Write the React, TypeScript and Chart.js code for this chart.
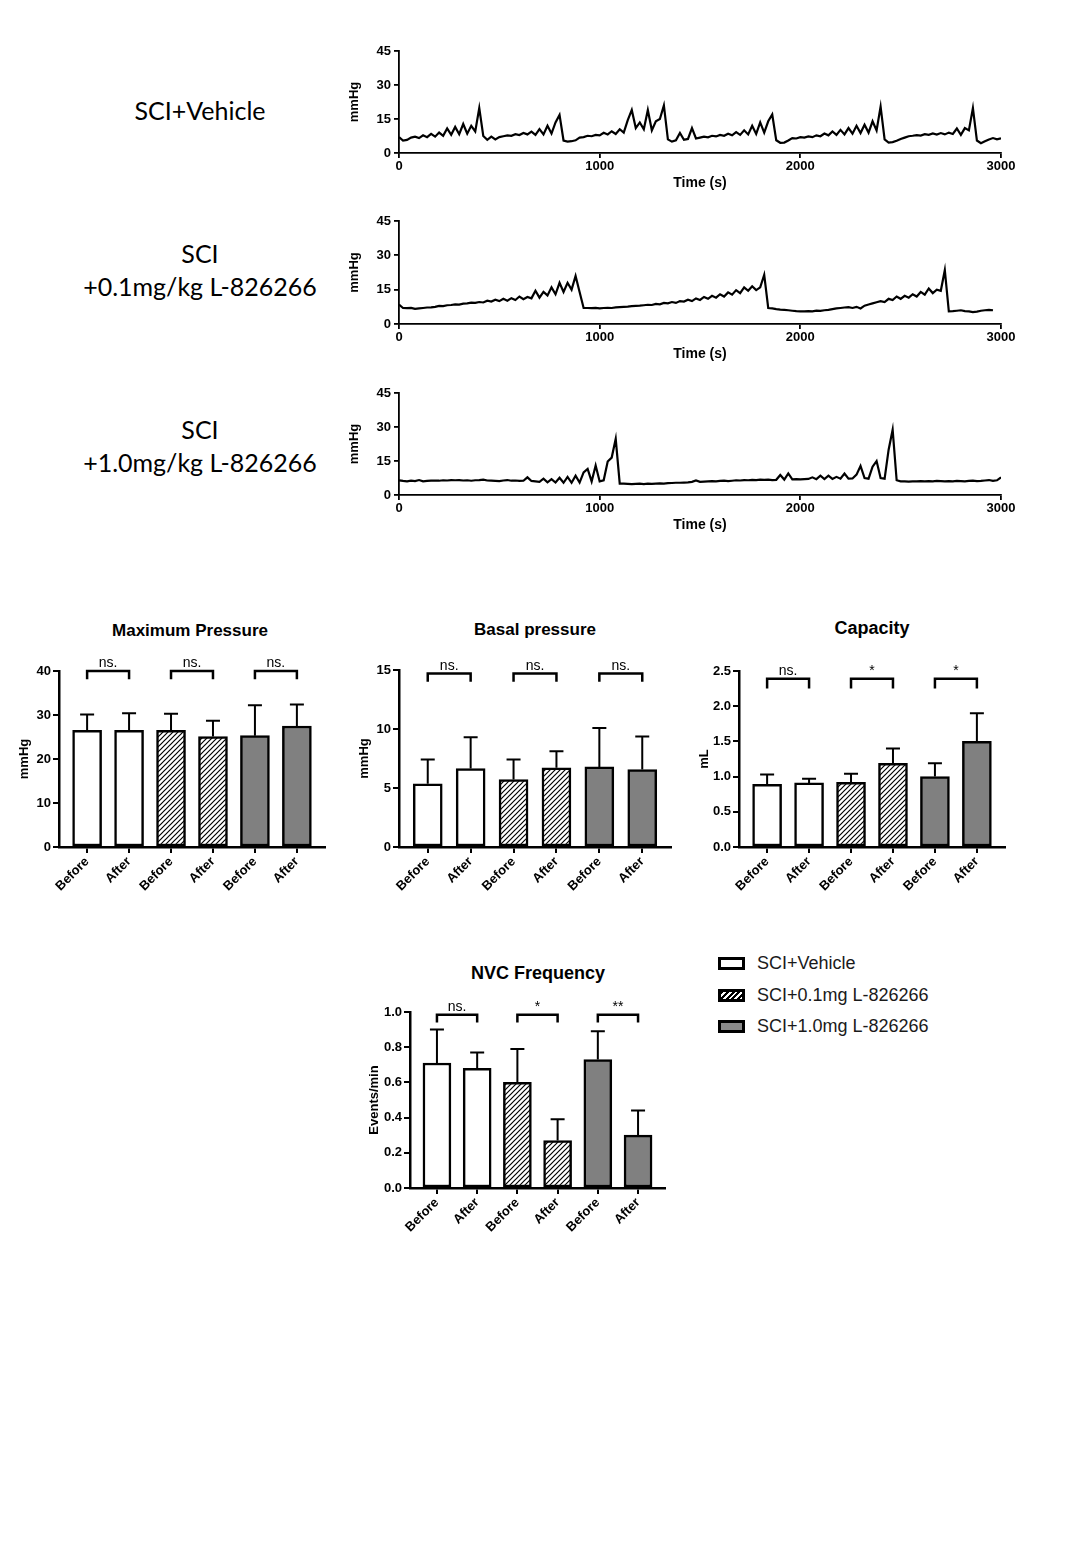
import React, { useEffect, useRef } from "react";
import { Chart, registerables } from "chart.js";

Chart.register(...registerables);

const FONT = "'Liberation Sans', Arial, Helvetica, sans-serif";
const LABEL_FONT = "Lato, 'Open Sans', sans-serif";

// ---------- cystometry traces (time in s, pressure in mmHg) ----------
const sampleTimes = [
  0, 20, 40, 60, 80, 100, 120, 140, 160, 180,
  200, 220, 240, 260, 280, 300, 320, 340, 360, 380,
  400, 420, 440, 460, 480, 500, 520, 540, 560, 580,
  600, 620, 640, 660, 680, 700, 720, 740, 760, 780,
  800, 820, 840, 860, 880, 900, 920, 940, 960, 980,
  1000, 1020, 1040, 1060, 1080, 1100, 1120, 1140, 1160, 1180,
  1200, 1220, 1240, 1260, 1280, 1300, 1320, 1340, 1360, 1380,
  1400, 1420, 1440, 1460, 1480, 1500, 1520, 1540, 1560, 1580,
  1600, 1620, 1640, 1660, 1680, 1700, 1720, 1740, 1760, 1780,
  1800, 1820, 1840, 1860, 1880, 1900, 1920, 1940, 1960, 1980,
  2000, 2020, 2040, 2060, 2080, 2100, 2120, 2140, 2160, 2180,
  2200, 2220, 2240, 2260, 2280, 2300, 2320, 2340, 2360, 2380,
  2400, 2420, 2440, 2460, 2480, 2500, 2520, 2540, 2560, 2580,
  2600, 2620, 2640, 2660, 2680, 2700, 2720, 2740, 2760, 2780,
  2800, 2820, 2840, 2860, 2880, 2900, 2920, 2940, 2960, 2980,
  3000,
];

const vehicleTrace: (number | null)[] = [
  7.0, 5.5, 5.8, 6.8, 7.2, 6.6, 7.8, 7.0, 8.4, 7.2,
  9.0, 7.6, 10.8, 8.0, 11.5, 8.3, 12.8, 8.5, 12.0, 9.5,
  19.8, 7.5, 5.8, 7.2, 6.0, 7.0, 7.4, 7.8, 7.6, 8.3,
  7.9, 8.8, 8.2, 9.4, 8.0, 10.5, 8.2, 12.0, 8.6, 13.5,
  16.8, 5.5, 5.0, 5.2, 5.6, 6.8, 7.0, 7.6, 7.4, 8.0,
  7.8, 8.9, 8.2, 9.6, 8.4, 10.5, 9.0, 14.5, 19.0, 11.0,
  13.5, 10.5, 19.0, 10.0, 14.0, 15.0, 21.0, 6.0, 5.0, 5.6,
  8.8, 5.8, 6.2, 11.0, 6.4, 6.8, 7.2, 6.9, 7.6, 7.3,
  8.0, 7.6, 8.5, 7.8, 9.2, 8.0, 10.0, 8.2, 12.0, 8.4,
  13.5, 9.0, 14.0, 17.0, 5.6, 4.5, 4.6, 5.5, 6.6, 6.4,
  7.0, 6.8, 7.3, 7.0, 7.8, 7.4, 8.6, 7.8, 9.5, 8.0,
  10.2, 8.2, 11.0, 8.5, 12.0, 8.8, 12.5, 9.0, 14.0, 10.0,
  20.5, 6.0, 4.6, 4.8, 5.4, 6.2, 6.8, 7.4, 7.6, 7.9,
  7.7, 8.3, 8.0, 8.6, 8.1, 8.8, 8.2, 9.0, 8.4, 10.8,
  8.0, 11.0, 10.0, 19.8, 5.5, 4.3, 5.2, 6.0, 6.6, 6.0,
  6.5,
];

const lowDoseTrace: (number | null)[] = [
  8.5, 7.0, 6.9, 7.0, 6.6, 6.8, 7.0, 7.2, 7.3, 7.5,
  7.9, 7.8, 8.2, 8.3, 8.6, 8.5, 8.9, 9.0, 9.3, 9.2,
  9.6, 9.4, 10.2, 9.8, 10.6, 10.0, 11.0, 10.2, 11.3, 10.5,
  12.0, 10.8, 11.8, 11.2, 14.5, 11.5, 14.0, 12.5, 16.0, 13.0,
  18.0, 14.0, 18.0, 15.0, 21.0, 14.0, 7.0, 7.0, 6.9, 7.0,
  6.8, 7.0, 7.1, 7.0, 7.3, 7.4, 7.5, 7.6, 7.8, 7.9,
  8.0, 8.2, 8.4, 8.3, 8.8, 8.6, 9.2, 9.0, 9.6, 9.2,
  10.0, 9.8, 10.6, 10.0, 11.2, 10.5, 11.8, 11.0, 12.3, 11.5,
  13.0, 12.0, 13.8, 12.8, 14.8, 13.5, 16.0, 14.5, 16.5, 14.8,
  16.0, 21.5, 7.0, 6.8, 6.5, 6.3, 6.2, 6.0, 5.8, 5.6,
  5.5, 5.5, 5.6, 5.5, 5.8, 5.7, 6.0, 6.2, 6.5, 6.8,
  7.0, 7.2, 7.4, 7.0, 7.5, 6.8, 8.0, 8.5, 9.0, 9.5,
  10.0, 9.6, 11.0, 10.5, 12.0, 11.0, 12.3, 11.5, 13.0, 12.0,
  14.0, 12.8, 15.5, 13.5, 15.0, 14.5, 23.5, 5.5, 5.6, 5.8,
  6.0, 5.6, 5.5, 5.2, 5.4, 5.8, 6.0, 6.2, 6.0, null,
  null,
];

const highDoseTrace: (number | null)[] = [
  6.5, 6.2, 6.0, 6.3, 6.1, 6.6, 6.0, 6.2, 6.3, 6.4,
  6.3, 6.5, 6.4, 6.6, 6.5, 6.6, 6.4, 6.5, 6.3, 6.5,
  6.6, 6.8, 6.4, 6.3, 6.2, 6.1, 6.4, 6.6, 6.3, 6.4,
  6.2, 6.3, 7.8, 6.2, 6.0, 5.8, 7.2, 5.6, 7.0, 5.5,
  7.6, 5.4, 8.0, 5.4, 8.5, 5.5, 10.0, 11.5, 6.0, 13.0,
  6.0, 6.5, 14.8, 16.5, 24.8, 5.0, 5.0, 4.9, 4.8, 4.9,
  5.0, 4.8, 5.0, 4.9, 5.0, 5.1, 5.0, 5.2, 5.3, 5.4,
  5.4, 5.5, 5.6, 5.8, 6.4, 5.8, 5.9, 6.0, 6.1, 6.0,
  6.2, 6.3, 6.1, 6.3, 6.5, 6.4, 6.6, 6.5, 6.7, 6.6,
  6.8, 6.7, 6.8, 6.6, 6.7, 8.8, 6.8, 9.5, 6.9, 7.0,
  6.9, 7.0, 7.1, 7.8, 7.0, 8.5, 7.0, 8.5, 7.1, 8.0,
  7.2, 9.5, 7.2, 7.3, 9.0, 12.8, 7.5, 7.2, 12.5, 15.0,
  7.5, 7.2, 20.0, 28.8, 6.5, 6.0, 6.0, 5.9, 6.0, 6.0,
  6.1, 6.0, 6.1, 6.0, 6.2, 6.1, 6.0, 6.1, 6.0, 6.2,
  6.1, 6.0, 6.2, 6.3, 6.1, 6.2, 6.4, 6.6, 6.2, 6.5,
  7.8,
];

const traceXTicks = [0, 1000, 2000, 3000];
const traceYTicks = [0, 15, 30, 45];

// ---------- bar panels ----------
const groupLabels = ["Before", "After", "Before", "After", "Before", "After"];

const maxPressureMean = [26.5, 26.5, 26.5, 25.1, 25.3, 27.5];
const maxPressureErr = [3.6, 3.9, 3.8, 3.6, 6.9, 4.9];
const maxPressureSig = ["ns.", "ns.", "ns."];
const maxPressureTicks = [0, 10, 20, 30, 40];

const basalMean = [5.36, 6.65, 5.72, 6.71, 6.79, 6.57];
const basalErr = [2.05, 2.65, 1.69, 1.41, 3.3, 2.79];
const basalSig = ["ns.", "ns.", "ns."];
const basalTicks = [0, 5, 10, 15];

const capacityMean = [0.89, 0.91, 0.92, 1.19, 1.0, 1.5];
const capacityErr = [0.14, 0.06, 0.12, 0.21, 0.19, 0.4];
const capacitySig = ["ns.", "*", "*"];
const capacityTicks = [0, 0.5, 1.0, 1.5, 2.0, 2.5];

const nvcMean = [0.71, 0.68, 0.6, 0.27, 0.73, 0.3];
const nvcErr = [0.19, 0.09, 0.19, 0.12, 0.16, 0.14];
const nvcSig = ["ns.", "*", "**"];
const nvcTicks = [0, 0.2, 0.4, 0.6, 0.8, 1.0];

const legendLabels = ["SCI+Vehicle", "SCI+0.1mg L-826266", "SCI+1.0mg L-826266"];

type Box = { left: number; top: number; width: number; height: number };
type Plot = { left: number; top: number; right: number; bottom: number };

const GREY = "#808080";

function makeHatch(): CanvasPattern | string {
  const c = document.createElement("canvas");
  c.width = 5;
  c.height = 5;
  const g = c.getContext("2d");
  if (!g) return "#bbb";
  g.fillStyle = "#fff";
  g.fillRect(0, 0, 5, 5);
  g.strokeStyle = "#000";
  g.lineWidth = 1.2;
  g.beginPath();
  g.moveTo(-1, 6);
  g.lineTo(6, -1);
  g.moveTo(-1, 1);
  g.lineTo(1, -1);
  g.moveTo(4, 6);
  g.lineTo(6, 4);
  g.stroke();
  return g.createPattern(c, "repeat") || "#bbb";
}

function traceConfig(values: (number | null)[], box: Box, plot: Plot): any {
  const tickFont = { family: FONT, size: 13, weight: "bold" as const };
  return {
    type: "line",
    data: {
      datasets: [
        {
          data: sampleTimes.map((t, i) => ({ x: t, y: values[i] })),
          borderColor: "#000",
          borderWidth: 2.2,
          pointRadius: 0,
          tension: 0,
          fill: false,
        },
      ],
    },
    options: {
      responsive: false,
      animation: false,
      layout: {
        padding: { left: 0, bottom: 0, top: plot.top - box.top, right: box.left + box.width - plot.right },
      },
      plugins: { legend: { display: false }, tooltip: { enabled: false } },
      scales: {
        x: {
          type: "linear",
          min: 0,
          max: 3000,
          afterBuildTicks: (s: any) => {
            s.ticks = traceXTicks.map((v) => ({ value: v }));
          },
          afterFit: (s: any) => {
            s.height = box.top + box.height - plot.bottom;
          },
          grid: { display: true, drawOnChartArea: false, drawTicks: true, tickLength: 5, lineWidth: 1.8, color: "#000" },
          border: { display: true, color: "#000", width: 1.8 },
          ticks: { callback: (v: any) => String(v), font: tickFont, color: "#000", padding: 1, maxRotation: 0, autoSkip: false },
          title: { display: true, text: "Time (s)", font: { family: FONT, size: 14, weight: "bold" }, color: "#000", padding: { top: 0, bottom: 3 } },
        },
        y: {
          type: "linear",
          min: 0,
          max: 45,
          afterBuildTicks: (s: any) => {
            s.ticks = traceYTicks.map((v) => ({ value: v }));
          },
          afterFit: (s: any) => {
            s.width = plot.left - box.left;
          },
          grid: { display: true, drawOnChartArea: false, drawTicks: true, tickLength: 5, lineWidth: 1.8, color: "#000" },
          border: { display: true, color: "#000", width: 1.8 },
          ticks: { callback: (v: any) => String(v), font: tickFont, color: "#000", padding: 3 },
          title: { display: true, text: "mmHg", font: { family: FONT, size: 13, weight: "bold" }, color: "#000", padding: { top: 7, bottom: 0 } },
        },
      },
    },
  };
}

type BarPanel = {
  box: Box;
  plot: Plot;
  means: number[];
  errs: number[];
  sig: string[];
  yTicks: number[];
  decimals: number;
  yTitle: string;
  bracketTop: number;
  bracketLeg: number;
  barThickness: number;
};

function barConfig(p: BarPanel): any {
  const hatch = makeHatch();
  const fills = ["#ffffff", "#ffffff", hatch, hatch, GREY, GREY];
  const tickFont = { family: FONT, size: 13, weight: "bold" as const };
  const yMax = p.yTicks[p.yTicks.length - 1];

  const errorBars = {
    id: "errorBars",
    afterDatasetsDraw(chart: any) {
      const { ctx } = chart;
      const ys = chart.scales.y;
      const meta = chart.getDatasetMeta(0);
      ctx.save();
      ctx.strokeStyle = "#000";
      ctx.lineWidth = 2;
      p.means.forEach((m, i) => {
        const el = meta.data[i];
        if (!el) return;
        const x = el.x;
        const yBar = ys.getPixelForValue(m);
        const yTop = ys.getPixelForValue(m + p.errs[i]);
        ctx.beginPath();
        ctx.moveTo(x, yBar);
        ctx.lineTo(x, yTop);
        ctx.moveTo(x - 7, yTop);
        ctx.lineTo(x + 7, yTop);
        ctx.stroke();
      });
      ctx.restore();
    },
  };

  const brackets = {
    id: "brackets",
    afterDraw(chart: any) {
      const { ctx } = chart;
      const xs = chart.scales.x;
      const ys = chart.scales.y;
      ctx.save();
      ctx.strokeStyle = "#000";
      ctx.fillStyle = "#000";
      ctx.lineWidth = 2.5;
      ctx.lineJoin = "miter";
      ctx.font = `14px ${FONT}`;
      ctx.textAlign = "center";
      ctx.textBaseline = "alphabetic";
      p.sig.forEach((label, k) => {
        const x1 = xs.getPixelForValue(2 * k);
        const x2 = xs.getPixelForValue(2 * k + 1);
        const yT = ys.getPixelForValue(p.bracketTop);
        const yL = ys.getPixelForValue(p.bracketLeg);
        ctx.beginPath();
        ctx.moveTo(x1, yL);
        ctx.lineTo(x1, yT);
        ctx.lineTo(x2, yT);
        ctx.lineTo(x2, yL);
        ctx.stroke();
        ctx.fillText(label, (x1 + x2) / 2, yT - 4);
      });
      ctx.restore();
    },
  };

  return {
    type: "bar",
    data: {
      datasets: [
        {
          data: p.means.map((m, i) => ({ x: i, y: m })),
          backgroundColor: fills,
          borderColor: "#000",
          borderWidth: 2.5,
          borderSkipped: false,
          barThickness: p.barThickness,
        },
      ],
    },
    plugins: [errorBars, brackets],
    options: {
      responsive: false,
      animation: false,
      layout: {
        padding: { left: 0, bottom: 0, top: p.plot.top - p.box.top, right: p.box.left + p.box.width - p.plot.right },
      },
      plugins: { legend: { display: false }, tooltip: { enabled: false } },
      scales: {
        x: {
          type: "linear",
          min: -0.67,
          max: 5.67,
          offset: false,
          afterBuildTicks: (s: any) => {
            s.ticks = groupLabels.map((_, i) => ({ value: i }));
          },
          afterFit: (s: any) => {
            s.height = p.box.top + p.box.height - p.plot.bottom;
          },
          grid: { display: true, offset: false, drawOnChartArea: false, drawTicks: true, tickLength: 6, lineWidth: 2, color: "#000" },
          border: { display: true, color: "#000", width: 2.5 },
          ticks: {
            callback: (v: any) => groupLabels[Math.round(v)] ?? "",
            font: tickFont,
            color: "#000",
            padding: 1,
            minRotation: 45,
            maxRotation: 45,
            autoSkip: false,
          },
        },
        y: {
          type: "linear",
          min: 0,
          max: yMax,
          afterBuildTicks: (s: any) => {
            s.ticks = p.yTicks.map((v) => ({ value: v }));
          },
          afterFit: (s: any) => {
            s.width = p.plot.left - p.box.left;
          },
          grid: { display: true, drawOnChartArea: false, drawTicks: true, tickLength: 6, lineWidth: 2, color: "#000" },
          border: { display: true, color: "#000", width: 2.5 },
          ticks: { callback: (v: any) => Number(v).toFixed(p.decimals), font: tickFont, color: "#000", padding: 2 },
          title: { display: true, text: p.yTitle, font: { family: FONT, size: 13, weight: "bold" }, color: "#000", padding: { top: 7, bottom: 0 } },
        },
      },
    },
  };
}

function ChartCanvas({ box, makeConfig }: { box: Box; makeConfig: () => any }) {
  const ref = useRef<HTMLCanvasElement | null>(null);
  useEffect(() => {
    if (!ref.current) return;
    const chart = new Chart(ref.current, makeConfig());
    return () => chart.destroy();
  }, []);
  return (
    <canvas
      ref={ref}
      width={box.width}
      height={box.height}
      style={{ position: "absolute", left: box.left, top: box.top, width: box.width, height: box.height }}
    />
  );
}

const traceBoxes: { box: Box; plot: Plot; values: (number | null)[] }[] = [
  { box: { left: 340, top: 40, width: 690, height: 155 }, plot: { left: 399, top: 51, right: 1001, bottom: 153 }, values: vehicleTrace },
  { box: { left: 340, top: 210, width: 690, height: 156 }, plot: { left: 399, top: 221, right: 1001, bottom: 324 }, values: lowDoseTrace },
  { box: { left: 340, top: 382, width: 690, height: 155 }, plot: { left: 399, top: 393, right: 1001, bottom: 495 }, values: highDoseTrace },
];

const barPanels: (BarPanel & { title: string; tx: number; ty: number; tsize: number })[] = [
  {
    box: { left: 10, top: 640, width: 325, height: 265 },
    plot: { left: 59, top: 671, right: 325, bottom: 847 },
    means: maxPressureMean, errs: maxPressureErr, sig: maxPressureSig, yTicks: maxPressureTicks, decimals: 0,
    yTitle: "mmHg", bracketTop: 40, bracketLeg: 38.1, barThickness: 29,
    title: "Maximum Pressure", tx: 190, ty: 630, tsize: 17,
  },
  {
    box: { left: 350, top: 640, width: 330, height: 265 },
    plot: { left: 399, top: 670, right: 671, bottom: 847 },
    means: basalMean, errs: basalErr, sig: basalSig, yTicks: basalTicks, decimals: 0,
    yTitle: "mmHg", bracketTop: 14.7, bracketLeg: 14.0, barThickness: 29,
    title: "Basal pressure", tx: 535, ty: 629, tsize: 17,
  },
  {
    box: { left: 690, top: 640, width: 330, height: 265 },
    plot: { left: 739, top: 671, right: 1005, bottom: 847 },
    means: capacityMean, errs: capacityErr, sig: capacitySig, yTicks: capacityTicks, decimals: 1,
    yTitle: "mL", bracketTop: 2.39, bracketLeg: 2.25, barThickness: 29,
    title: "Capacity", tx: 872, ty: 628, tsize: 18,
  },
  {
    box: { left: 360, top: 985, width: 315, height: 265 },
    plot: { left: 410, top: 1012, right: 665, bottom: 1188 },
    means: nvcMean, errs: nvcErr, sig: nvcSig, yTicks: nvcTicks, decimals: 1,
    yTitle: "Events/min", bracketTop: 0.985, bracketLeg: 0.94, barThickness: 28,
    title: "NVC Frequency", tx: 538, ty: 973, tsize: 18,
  },
];

const groupLabelLines: { lines: string[]; cy: number }[] = [
  { lines: ["SCI+Vehicle"], cy: 110 },
  { lines: ["SCI", "+0.1mg/kg L-826266"], cy: 270 },
  { lines: ["SCI", "+1.0mg/kg L-826266"], cy: 446 },
];

const legendSwatches = [
  { background: "#fff" },
  { background: "repeating-linear-gradient(135deg, #000 0px, #000 2px, #fff 2px, #fff 4px)" },
  { background: "#8a8a8a" },
];
const legendRowsY = [963, 995, 1026];

export default function App() {
  return (
    <div style={{ position: "absolute", left: 0, top: 0, width: 1080, height: 1560, background: "#fff", overflow: "hidden" }}>
      {groupLabelLines.map((g, i) => (
        <div
          key={"gl" + i}
          style={{
            position: "absolute",
            left: 50,
            width: 300,
            top: g.cy - (g.lines.length * 33) / 2,
            textAlign: "center",
            fontFamily: LABEL_FONT,
            fontSize: 25,
            lineHeight: "33px",
            color: "#000",
          }}
        >
          {g.lines.map((l, j) => (
            <div key={j}>{l}</div>
          ))}
        </div>
      ))}

      {traceBoxes.map((t, i) => (
        <ChartCanvas key={"tr" + i} box={t.box} makeConfig={() => traceConfig(t.values, t.box, t.plot)} />
      ))}

      {barPanels.map((p, i) => (
        <React.Fragment key={"bp" + i}>
          <div
            style={{
              position: "absolute",
              left: p.tx,
              top: p.ty,
              transform: "translate(-50%, -50%)",
              whiteSpace: "nowrap",
              fontFamily: FONT,
              fontWeight: "bold",
              fontSize: p.tsize,
              lineHeight: 1,
              color: "#000",
            }}
          >
            {p.title}
          </div>
          <ChartCanvas box={p.box} makeConfig={() => barConfig(p)} />
        </React.Fragment>
      ))}

      {legendLabels.map((l, i) => (
        <div
          key={"lg" + i}
          style={{
            position: "absolute",
            left: 718,
            top: legendRowsY[i] - 10,
            height: 20,
            display: "flex",
            alignItems: "center",
            fontFamily: FONT,
            fontSize: 18,
            color: "#1a1a1a",
            whiteSpace: "nowrap",
          }}
        >
          <span
            style={{
              display: "inline-block",
              width: 21,
              height: 7,
              border: "3px solid #000",
              marginRight: 12,
              ...legendSwatches[i],
            }}
          />
          {l}
        </div>
      ))}
    </div>
  );
}
